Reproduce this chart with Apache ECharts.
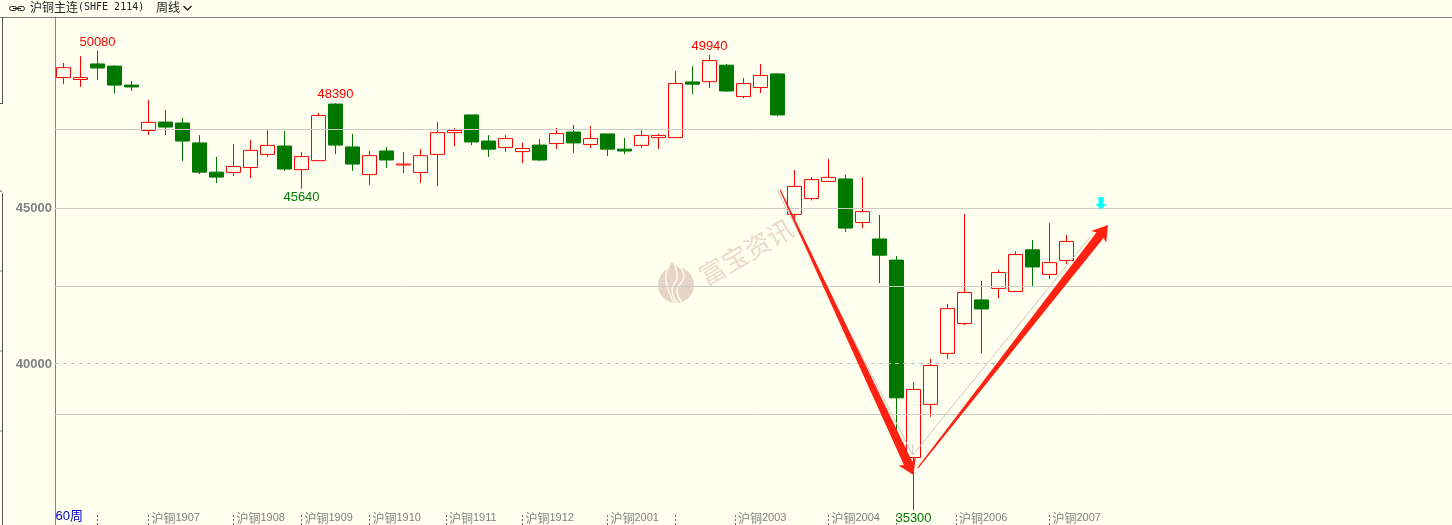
<!DOCTYPE html>
<html><head><meta charset="utf-8"><style>html,body{margin:0;padding:0;background:#FFFFF0}#c{width:1452px;height:525px}</style>
<script src="https://cdn.jsdelivr.net/npm/echarts@6/dist/echarts.min.js"></script></head><body><div id="c"></div><script>
const opens=[49210,49150,49650,49580,48970,47510,47780,47750,47110,46170,46160,46320,46740,47010,46250,46540,48360,46980,46090,46850,46400,46160,46740,47440,48010,47170,46960,46830,47040,47090,47460,47060,47400,46910,47030,47280,47280,49070,49080,49610,48600,48890,49330,44810,45320,45870,45950,44550,44020,43340,36990,38700,40340,41300,42060,42430,42330,43670,42880,43330];
const closes=[49530,49210,49520,48970,48910,47770,47620,47170,46170,46010,46350,46870,47030,46270,46670,47990,47040,46430,46700,46560,46430,46700,47440,47510,47140,46910,47250,46930,46560,47410,47110,47250,46910,46850,47350,47350,49020,49000,49760,48780,49020,49280,48010,45710,45930,46000,44370,44900,43500,38910,39180,39950,41780,42300,41770,42940,43520,43120,43260,43940];
const lows=[49000,48910,49130,48710,48780,47360,47360,46530,46110,45820,46050,45980,46660,46210,45640,46540,46750,46210,45760,46300,46140,45820,45720,47010,47040,46660,46820,46460,46530,46910,46790,46950,46690,46750,46950,46910,47280,48680,48870,48750,48550,48710,47970,44630,45260,45870,44240,44370,42600,37720,35300,38300,40160,41250,40350,42120,42330,42510,42730,43220];
const highs=[49680,49900,50080,49610,49100,48490,48170,47910,47360,46660,47070,47200,47520,47490,46820,48070,48390,47400,46850,46980,46820,46910,47780,47590,48010,47360,47360,47110,47230,47590,47690,47650,47400,47270,47520,47400,49420,49580,49940,49650,49200,49650,49360,46240,46010,46590,46080,46010,44790,43470,39420,40160,41930,44820,42670,43020,43630,43990,44530,44150];
const tickPositions=[2,5,10,14,18,22.5,27,32,36,39.5,45,49,52.5,58];
const tickLabels=['','1907','1908','1909','1910','1911','1912','2001','','2003','2004','','2006','2007'];
const contractName='沪铜';
const priceLabels=[40000,45000];
const solidLevels=[47540,45000,42500,38380];
const dashedLevels=[40010];
const extremes=[[2,50080],[16,48390],[14,45640],[38,49940],[50,35300]];
const trendLine=[[41.97,45600],[49.95,37070],[60.38,44080]];
const trendStub=[[49.95,37070],[49.95,37420]];
const arrowDown=[42.15,45600,50.0,36430];
const arrowUp=[50.26,36660,61.44,44470];
const marker=[61.03,44970];
const slots=82;

const BG='#FFFFF0',RED='#FF0000',GREEN='#007800',GRID='#CDCBC6',ARROW='#FF2212';
const weeks=Array.from({length:slots},(_,i)=>String(i+1));
const candles=opens.map((o,i)=>[o,closes[i],lows[i],highs[i]]);

function arrowPoly(api,a){
  const s=api.coord([a[0],a[1]]),t=api.coord([a[2],a[3]]);
  const dx=t[0]-s[0],dy=t[1]-s[1],L=Math.hypot(dx,dy),u=[dx/L,dy/L],n=[-u[1],u[0]];
  const at=(back,side)=>[t[0]-u[0]*back+n[0]*side,t[1]-u[1]*back+n[1]*side];
  return [[s[0]+n[0]*.6,s[1]+n[1]*.6],at(13,4.5),at(15,9.5),t,at(15,-9.5),at(13,-4.5),[s[0]-n[0]*.6,s[1]-n[1]*.6]];
}
function levelLine(api,v,style){
  const y=Math.floor(api.coord([0,v])[1])+.5;
  return {type:'line',shape:{x1:55,y1:y,x2:api.getWidth(),y2:y},style};
}
const line=(x1,y1,x2,y2,stroke)=>({type:'line',silent:true,z:20,shape:{x1,y1,x2,y2},style:{stroke:stroke||'#808080',lineWidth:1}});
const logoBg={stroke:BG,lineWidth:1.4,fill:null};

const option={
  backgroundColor:BG,animation:false,
  grid:{left:55,top:17,width:17*slots,height:508,containLabel:false},
  xAxis:[
    {type:'category',data:weeks,show:false,boundaryGap:true},
    {type:'value',min:-0.5,max:slots-0.5,position:'bottom',splitLine:{show:false},axisLine:{show:false},
     axisTick:{show:true,inside:true,length:10,customValues:tickPositions,lineStyle:{color:'#707070',type:[2,2],width:1}},
     axisLabel:{show:true,inside:true,margin:1,customValues:tickPositions,align:'left',padding:[0,0,0,3],
       formatter:v=>{const t=tickLabels[tickPositions.indexOf(v)];return t?`{a|${contractName}}{b|${t}}`:'';},
       rich:{a:{fontFamily:'"Noto Sans CJK SC"',fontSize:12,color:'#808080'},b:{fontFamily:'"Liberation Sans"',fontSize:11,color:'#808080'}}}}
  ],
  yAxis:{type:'value',min:34820,max:51160,position:'left',
    axisLine:{show:true,onZero:false,lineStyle:{color:'#808080',width:1}},axisTick:{show:false},splitLine:{show:false},
    axisLabel:{customValues:priceLabels,margin:3,color:'#808080',fontFamily:'"Liberation Sans"',fontSize:13,fontWeight:'bold',formatter:v=>String(v)}},
  series:[
    {type:'candlestick',xAxisIndex:0,yAxisIndex:0,data:candles,barWidth:14,z:2,
     itemStyle:{color:BG,color0:GREEN,borderColor:RED,borderColor0:GREEN,borderWidth:1},
     markPoint:{silent:true,symbol:'circle',symbolSize:0,z:8,itemStyle:{color:'transparent'},
       data:extremes.map(([i,v])=>{
         const isLow=lows[i]===v;
         return {coord:[i,v],value:v,label:{show:true,formatter:String(v),position:isLow?'bottom':'top',distance:2,
           color:isLow?GREEN:RED,fontFamily:'"Liberation Sans"',fontSize:13}};
       })}},
    {type:'custom',xAxisIndex:1,yAxisIndex:0,coordinateSystem:'cartesian2d',z:6,silent:true,clip:false,
     data:[[0]],encode:{x:[],y:[]},
     renderItem:(p,api)=>({type:'group',children:[
       ...solidLevels.map(v=>levelLine(api,v,{stroke:GRID,lineWidth:1})),
       ...dashedLevels.map(v=>levelLine(api,v,{stroke:'#C4C4BE',lineWidth:1,lineDash:[4,4]})),
       {type:'polyline',shape:{points:trendLine.map(c=>api.coord(c))},style:{stroke:'#C9C9C4',lineWidth:1,fill:null}},
       {type:'polyline',shape:{points:trendStub.map(c=>api.coord(c))},style:{stroke:'#C9C9C4',lineWidth:1,fill:null}},
       {type:'polygon',shape:{points:arrowPoly(api,arrowDown)},style:{fill:ARROW}},
       {type:'polygon',shape:{points:arrowPoly(api,arrowUp)},style:{fill:ARROW}},
       (()=>{const t=api.coord(marker);return {type:'polygon',shape:{points:[
          [t[0],t[1]],[t[0]+5.5,t[1]-5.5],[t[0]+2.5,t[1]-5.5],[t[0]+2.5,t[1]-12.5],[t[0]-2.5,t[1]-12.5],[t[0]-2.5,t[1]-5.5],[t[0]-5.5,t[1]-5.5]]},
          style:{fill:'#00FFFF'}};})()
     ]})}
  ],
  graphic:[
    {type:'rect',silent:true,z:0,shape:{x:0,y:0,width:1452,height:17},style:{fill:BG}},
    line(0,17.5,1452,17.5,'#7A7A7A'),
    line(2.5,17,2.5,103.5,'#555'),line(0,103.5,3,103.5,'#555'),
    line(2.5,193,2.5,525,'#555'),line(0,190.5,2,192,'#555'),line(0,270.5,2,271.5,'#777'),line(0,350.5,2,351.5,'#777'),line(0,430.5,2,431.5,'#777'),
    {type:'rect',silent:true,z:20,shape:{x:9.5,y:6.5,width:7,height:4,r:2},style:{stroke:'#222',fill:null,lineWidth:1}},
    {type:'rect',silent:true,z:20,shape:{x:17.5,y:6.5,width:7,height:4,r:2},style:{stroke:'#222',fill:null,lineWidth:1}},
    line(13,8.5,21,8.5,'#222'),
    {type:'text',silent:true,z:20,x:30,y:1,style:{text:'{a|沪铜主连}{b|(SHFE 2114)}',
      rich:{a:{font:'12px "Noto Sans CJK SC"',fill:'#222'},b:{font:'10px "DejaVu Sans Mono"',fill:'#222'}}}},
    {type:'text',silent:true,z:20,x:156,y:1,style:{text:'周线',font:'12px "Noto Sans CJK SC"',fill:'#222'}},
    {type:'polyline',silent:true,z:20,shape:{points:[[183.5,6],[187.5,10],[191.5,6]]},style:{stroke:'#222',lineWidth:1.4,fill:null}},
    {type:'text',silent:true,z:20,x:55.5,y:510,style:{text:'60周',font:'13px "Liberation Sans","Noto Sans CJK SC"',fill:'#0000C8'}},
    {type:'text',silent:true,z:0,x:746,y:252,rotation:30*Math.PI/180,originX:0,originY:0,style:{text:'富宝资讯',font:'26px "Noto Sans CJK SC"',fill:'#EAD9CF',align:'center',verticalAlign:'middle'}},
    {type:'polygon',silent:true,z:0,shape:{points:[[664,272],[672,262],[684,272]]},style:{fill:'#E6D3C9'}},
    {type:'circle',silent:true,z:0,shape:{cx:676,cy:285,r:18},style:{fill:'#E6D3C9'}},
    {type:'polyline',silent:true,z:1,shape:{smooth:.5,points:[[670,264],[666,280],[675,304]]},style:logoBg},
    {type:'polyline',silent:true,z:1,shape:{smooth:.5,points:[[679,266],[684,277],[677,290],[683,304]]},style:logoBg},
    {type:'polyline',silent:true,z:1,shape:{smooth:.5,points:[[674,263],[677,278],[672,290],[678,304]]},style:logoBg}
  ]
};
echarts.init(document.getElementById('c'),null,{renderer:'canvas'}).setOption(option);
</script></body></html>
